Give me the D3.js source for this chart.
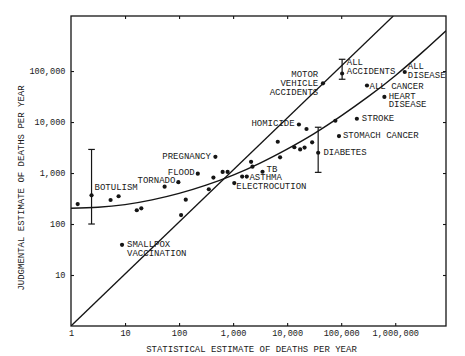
<!DOCTYPE html>
<html>
<head>
<meta charset="utf-8">
<script src="https://cdn.jsdelivr.net/npm/d3@7"></script>
<style>
  html, body { margin: 0; padding: 0; background: #fff; }
  svg { display: block; }
  text { font-family: "Liberation Mono", "DejaVu Sans Mono", monospace; fill: #1a1a1a; }
</style>
</head>
<body>
<svg id="chart" width="465" height="356"></svg>
<script>
// ---- data ----
const xTickValues = [1, 10, 100, 1000, 10000, 100000, 1000000];
const yTickValues = [10, 100, 1000, 10000, 100000];
const frameTickValuesX = [10, 100, 1000, 10000, 100000];

// labelled risks
const riskNames = ["BOTULISM", "SMALLPOX\nVACCINATION", "TORNADO", "FLOOD", "PREGNANCY",
  "ELECTROCUTION", "ASTHMA", "TB", "HOMICIDE", "DIABETES", "MOTOR\nVEHICLE\nACCIDENTS",
  "ALL\nACCIDENTS", "STOMACH CANCER", "STROKE", "ALL CANCER", "HEART\nDISEASE", "ALL\nDISEASE"];
const riskStatistical = [2.4, 8.8, 97, 222, 470, 1050, 1790, 3500, 16500, 37500, 46000,
  104000, 91000, 195000, 300000, 630000, 1500000];
const riskJudgmental = [365, 39, 660, 970, 2080, 635, 850, 1060, 8950, 2500, 57500,
  89500, 5300, 11600, 52000, 31000, 95700];

// unlabelled risks
const otherStatistical = [1.33, 5.4, 7.6, 16.5, 20, 54, 109, 133, 355, 432, 640, 791,
  1470, 2150, 2280, 6700, 7400, 13600, 17400, 21000, 22800, 29000, 78000];
const otherJudgmental = [246, 296, 350, 186, 203, 540, 150, 300, 480, 813, 1050, 1050,
  850, 1660, 1330, 4100, 2030, 3200, 2900, 3150, 7300, 4000, 10600];

// ranges (error bars)
const rangeNames = ["BOTULISM", "DIABETES", "ALL\nACCIDENTS"];
const rangeLow = [100, 1030, 69000];
const rangeHigh = [2900, 7900, 170000];

// fitted curve, read at half decades
const curveStatistical = [1, 3.16, 10, 31.6, 100, 316, 1000, 3160, 10000, 31600, 100000, 316000, 1000000, 3160000, 8700000];
const curveJudgmental = [204, 213, 240, 297, 398, 578, 912, 1570, 2950, 5940, 13200, 31400, 81000, 232000, 617000];

// straight (equal estimate) line, two ends
const lineStatistical = [1, 920000];
const lineJudgmental = [1, 1200000];

// ---- layout / styles ----
const labelLayout = {
  "BOTULISM": {dx: 3, dy: -7, anchor: "start", lh: 8},
  "SMALLPOX\nVACCINATION": {dx: 5, dy: 0, anchor: "start", lh: 8.7},
  "TORNADO": {dx: -3, dy: -1, anchor: "end", lh: 8},
  "FLOOD": {dx: -3, dy: -1, anchor: "end", lh: 8},
  "PREGNANCY": {dx: -4.5, dy: 0, anchor: "end", lh: 8},
  "ELECTROCUTION": {dx: 2, dy: 4.1, anchor: "start", lh: 8},
  "ASTHMA": {dx: 2.7, dy: 1.7, anchor: "start", lh: 8},
  "TB": {dx: 4, dy: -2, anchor: "start", lh: 8},
  "HOMICIDE": {dx: -4.3, dy: -0.3, anchor: "end", lh: 8},
  "DIABETES": {dx: 5.3, dy: 0.3, anchor: "start", lh: 8},
  "MOTOR\nVEHICLE\nACCIDENTS": {dx: -4.7, dy: -7.9, anchor: "end", lh: 8.7},
  "ALL\nACCIDENTS": {dx: 4.7, dy: -10.6, anchor: "start", lh: 9},
  "STOMACH CANCER": {dx: 4, dy: 0, anchor: "start", lh: 8},
  "STROKE": {dx: 5, dy: 0.3, anchor: "start", lh: 8},
  "ALL CANCER": {dx: 2.6, dy: 1.4, anchor: "start", lh: 8},
  "HEART\nDISEASE": {dx: 4.3, dy: -0.2, anchor: "start", lh: 8.7},
  "ALL\nDISEASE": {dx: 3, dy: -4.7, anchor: "start", lh: 8.7}
};

const svg = d3.select("#chart");
const W = 465, H = 356;
svg.append("rect").attr("width", W).attr("height", H).attr("fill", "#fff");

const x = d3.scaleLog().domain([1, 8.7e6]).range([71, 446]);
const y = d3.scaleLog().domain([1, 1.2e6]).range([326, 16]);
const [x0, x1] = x.range();
const [y0, y1] = y.range();

const fmt = d3.format(",");
const ink = "#151515";

// frame
svg.append("rect")
  .attr("x", x0).attr("y", y1)
  .attr("width", x1 - x0).attr("height", y0 - y1)
  .attr("fill", "none").attr("stroke", ink).attr("stroke-width", 1.3);

function styleAxis(g, fontSize) {
  g.select(".domain").remove();
  g.selectAll(".tick line").attr("stroke", ink).attr("stroke-width", 1.1);
  g.selectAll(".tick text").style("font-family", "'Liberation Mono', monospace")
    .style("font-size", fontSize + "px").attr("fill", ink);
}

svg.append("g").attr("transform", `translate(0,${y0})`)
  .call(d3.axisBottom(x).tickValues(xTickValues).tickFormat(fmt)
    .tickSizeInner(-3).tickSizeOuter(0).tickPadding(3.5))
  .call(g => styleAxis(g, 8.6))
  .call(g => g.selectAll(".tick").filter(d => d === 1).select("line").remove());

svg.append("g").attr("transform", `translate(${x0},0)`)
  .call(d3.axisLeft(y).tickValues(yTickValues).tickFormat(fmt)
    .tickSizeInner(-3).tickSizeOuter(0).tickPadding(5.5))
  .call(g => styleAxis(g, 8.6));

svg.append("g").attr("transform", `translate(0,${y1})`)
  .call(d3.axisTop(x).tickValues(frameTickValuesX).tickFormat("")
    .tickSizeInner(-3).tickSizeOuter(0))
  .call(g => styleAxis(g, 8.6));

svg.append("g").attr("transform", `translate(${x1},0)`)
  .call(d3.axisRight(y).tickValues(yTickValues).tickFormat("")
    .tickSizeInner(-3).tickSizeOuter(0))
  .call(g => styleAxis(g, 8.6));

// axis titles
svg.append("text")
  .attr("x", (x0 + x1) / 2 - 7).attr("y", 352)
  .attr("text-anchor", "middle")
  .style("font-size", "9px")
  .text("STATISTICAL ESTIMATE OF DEATHS PER YEAR");

svg.append("text")
  .attr("transform", `translate(23.5,${188}) rotate(-90)`)
  .attr("text-anchor", "middle")
  .style("font-size", "9px")
  .text("JUDGMENTAL ESTIMATE OF DEATHS PER YEAR");

// clip
svg.append("clipPath").attr("id", "plotclip")
  .append("rect").attr("x", x0).attr("y", y1).attr("width", x1 - x0).attr("height", y0 - y1);
const plot = svg.append("g").attr("clip-path", "url(#plotclip)");

// straight line
const straight = d3.zip(lineStatistical, lineJudgmental);
plot.append("path")
  .attr("d", d3.line().x(d => x(d[0])).y(d => y(d[1]))(straight))
  .attr("fill", "none").attr("stroke", ink).attr("stroke-width", 1.3);

// curve
const curvePts = d3.zip(curveStatistical, curveJudgmental);
plot.append("path")
  .attr("d", d3.line().x(d => x(d[0])).y(d => y(d[1])).curve(d3.curveNatural)(curvePts))
  .attr("fill", "none").attr("stroke", ink).attr("stroke-width", 1.4);

// error bars
const capHalf = 3.3;
rangeNames.forEach((name, i) => {
  const k = riskNames.indexOf(name);
  const cx = x(riskStatistical[k]);
  const g = svg.append("g").attr("stroke", ink).attr("stroke-width", 1.2);
  g.append("line").attr("x1", cx).attr("x2", cx).attr("y1", y(rangeLow[i])).attr("y2", y(rangeHigh[i]));
  g.append("line").attr("x1", cx - capHalf).attr("x2", cx + capHalf).attr("y1", y(rangeLow[i])).attr("y2", y(rangeLow[i]));
  g.append("line").attr("x1", cx - capHalf).attr("x2", cx + capHalf).attr("y1", y(rangeHigh[i])).attr("y2", y(rangeHigh[i]));
});

// dots
const dotR = 2.1;
svg.append("g").selectAll("circle.other")
  .data(d3.zip(otherStatistical, otherJudgmental))
  .join("circle")
  .attr("cx", d => x(d[0])).attr("cy", d => y(d[1])).attr("r", dotR).attr("fill", ink);

const labelled = riskNames.map((n, i) => ({name: n, s: riskStatistical[i], j: riskJudgmental[i]}));
svg.append("g").selectAll("circle.risk")
  .data(labelled)
  .join("circle")
  .attr("cx", d => x(d.s)).attr("cy", d => y(d.j)).attr("r", dotR).attr("fill", ink);

// labels
const lg = svg.append("g").style("font-size", "9px");
labelled.forEach(d => {
  const L = labelLayout[d.name];
  const lines = d.name.split("\n");
  const t = lg.append("text")
    .attr("x", x(d.s) + L.dx)
    .attr("y", y(d.j) + L.dy)
    .attr("text-anchor", L.anchor)
    .attr("dominant-baseline", "central");
  lines.forEach((ln, li) => {
    t.append("tspan").attr("x", x(d.s) + L.dx)
      .attr("y", y(d.j) + L.dy + li * L.lh)
      .text(ln);
  });
});
</script>
</body>
</html>
